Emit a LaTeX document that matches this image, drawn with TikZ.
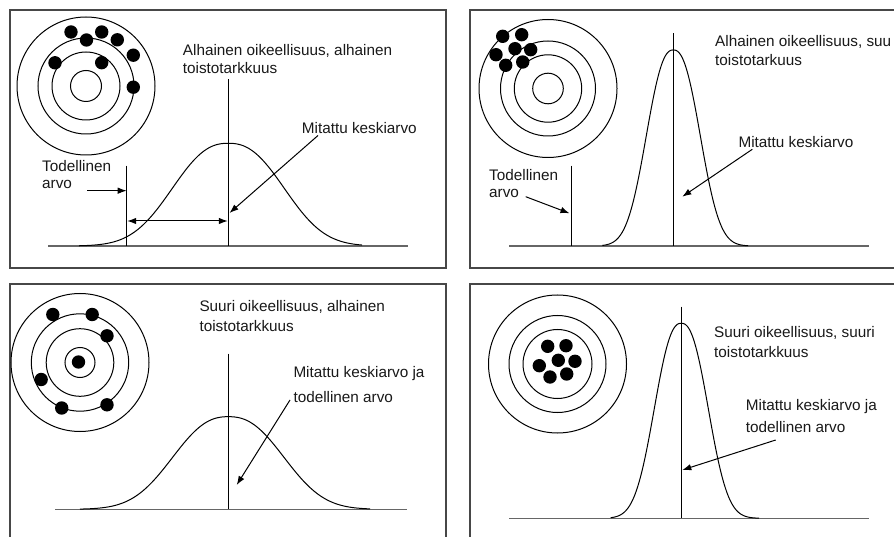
\documentclass[tikz,border=0pt]{standalone}
\usepackage{fontspec}
\setmainfont{Liberation Sans}
\usetikzlibrary{arrows.meta}
\newcommand\bellcurve[6]{%
  \draw[curve] plot[domain=#5:#6, samples=141] (\x, {#2-#3*exp(-exp(2.4*ln(abs(\x-#1)/#4+0.0001)))});
}
\begin{document}
\begin{tikzpicture}[x=1pt,y=-1pt,
  frame/.style={draw=black!72, line width=1.3pt},
  ring/.style={draw=black, line width=1pt},
  shot/.style={fill=black},
  axisline/.style={draw=black!60, line width=1.6pt},
  vline/.style={draw=black, line width=1.1pt},
  curve/.style={draw=black, line width=1pt},
  arr/.style={draw=black, line width=1pt, -{Latex[length=9pt,width=6.5pt]}},
  darr/.style={draw=black, line width=1pt, {Latex[length=9pt,width=6.5pt]}-{Latex[length=9pt,width=6.5pt]}},
  lbl/.style={inner sep=0pt, anchor=base west, text=black!90, font=\fontsize{15.3}{18}\selectfont}]
\clip (0,0) rectangle (894,537);
\fill[white] (0,0) rectangle (894,537);

% ---------- frames ----------
\draw[frame] (10,10) rectangle (446,268);
\draw[frame] (470,10) rectangle (904,268);
\draw[frame] (10,284) rectangle (446,547);
\draw[frame] (470,284) rectangle (904,547);

% ================= Panel 1 (top left) =================
\foreach \r in {69,48,34,15.5} \draw[ring] (86,86) circle[radius=\r];
\foreach \p in {(71,32),(86.5,40),(101.7,32),(117.3,39.8),(133.3,55.2),(55,62.8),(101.7,62.7),(133.3,87.2)}
  \fill[shot] \p circle[radius=6.7];
\draw[axisline] (48.3,246) -- (408.3,246);
\bellcurve{228.3}{246}{102.7}{70.4}{79}{362}
\coordinate (mean1top) at (228.3,79.3);
\coordinate (mean1bot) at (228.3,246);
\draw[vline] (mean1top) -- (mean1bot);
\coordinate (true1top) at (126.7,165.7);
\coordinate (true1bot) at (126.7,246);
\draw[vline] (true1top) -- (true1bot);
\node[lbl] (t1a) at (182.7,55.5) {Alhainen oikeellisuus, alhainen};
\node[lbl] (t1b) at (182.7,73.5) {toistotarkkuus};
\node[lbl] (m1) at (301.7,134) {Mitattu keskiarvo};
\node[lbl] (d1a) at (42,171.5) {Todellinen};
\node[lbl] (d1b) at (42,189) {arvo};
\coordinate (d1s) at (87,190.7);
\coordinate (d1e) at (126.7,190.7);
\draw[arr] (d1s) -- (d1e);
\coordinate (m1s) at (318,135.5);
\coordinate (m1e) at (229.5,213);
\draw[arr] (m1s) -- (m1e);
\coordinate (g1a) at (127.2,221);
\coordinate (g1b) at (227.8,221);
\draw[darr] (g1a) -- (g1b);

% ================= Panel 2 (top right) =================
\foreach \r in {69,47.5,33.7,15.3} \draw[ring] (548,88.5) circle[radius=\r];
\foreach \p in {(502.7,36.3),(521.7,34.7),(515,48.7),(530.7,49.7),(496,54.7),(505.7,65.3),(522.7,62)}
  \fill[shot] \p circle[radius=6.7];
\draw[axisline] (509,246) -- (869,246);
\bellcurve{673.3}{246}{196}{34}{602.3}{748}
\coordinate (mean2top) at (673.3,33.3);
\coordinate (mean2bot) at (673.3,246);
\draw[vline] (mean2top) -- (mean2bot);
\coordinate (true2top) at (571.7,165.7);
\coordinate (true2bot) at (571.7,246);
\draw[vline] (true2top) -- (true2bot);
\node[lbl] (t2a) at (715,47) {Alhainen oikeellisuus, suu};
\node[lbl] (t2b) at (715,65.5) {toistotarkuus};
\node[lbl] (m2) at (738.3,147.7) {Mitattu keskiarvo};
\node[lbl] (d2a) at (489,180.5) {Todellinen};
\node[lbl] (d2b) at (489,197.3) {arvo};
\coordinate (d2s) at (525.7,196.7);
\coordinate (d2e) at (569.5,213.3);
\draw[arr] (d2s) -- (d2e);
\coordinate (m2s) at (752.3,149.3);
\coordinate (m2e) at (682.3,196.7);
\draw[arr] (m2s) -- (m2e);

% ================= Panel 3 (bottom left) =================
\foreach \r in {69,48.7,33.8,15} \draw[ring] (80,362.5) circle[radius=\r];
\foreach \p in {(78.5,362),(52.8,314.5),(92.2,314.5),(107,335.8),(41.2,379.5),(61.7,408),(107,404.8)}
  \fill[shot] \p circle[radius=6.7];
\draw[axisline] (55,509.3) -- (406.7,509.3);
\bellcurve{228.3}{509.3}{92.6}{70}{80}{370}
\coordinate (mean3top) at (228.3,353.5);
\coordinate (mean3bot) at (228.3,509.3);
\draw[vline] (mean3top) -- (mean3bot);
\node[lbl] (t3a) at (199.3,312) {Suuri oikeellisuus, alhainen};
\node[lbl] (t3b) at (199.3,331.5) {toistotarkkuus};
\node[lbl] (m3a) at (293.3,377) {Mitattu keskiarvo ja};
\node[lbl] (m3b) at (293.3,402) {todellinen arvo};
\coordinate (m3s) at (290,400);
\coordinate (m3e) at (236.7,485);
\draw[arr] (m3s) -- (m3e);

% ================= Panel 4 (bottom right) =================
\foreach \r in {69,48.5,34.5} \draw[ring] (557.5,364) circle[radius=\r];
\foreach \p in {(547.7,346.3),(566,345.7),(558.3,360.3),(575,361.3),(539.3,365.7),(550,377),(566.7,374)}
  \fill[shot] \p circle[radius=6.7];
\draw[axisline] (509,518.3) -- (869,518.3);
\bellcurve{681.3}{518.3}{195}{34}{610.7}{759}
\coordinate (mean4top) at (681.3,306.7);
\coordinate (mean4bot) at (681.3,518.3);
\draw[vline] (mean4top) -- (mean4bot);
\node[lbl] (t4a) at (714,337) {Suuri oikeellisuus, suuri};
\node[lbl] (t4b) at (714,357) {toistotarkkuus};
\node[lbl] (m4a) at (745.7,410.5) {Mitattu keskiarvo ja};
\node[lbl] (m4b) at (745.7,432) {todellinen arvo};
\coordinate (m4s) at (775.7,440);
\coordinate (m4e) at (682.3,470);
\draw[arr] (m4s) -- (m4e);
\end{tikzpicture}
\end{document}
